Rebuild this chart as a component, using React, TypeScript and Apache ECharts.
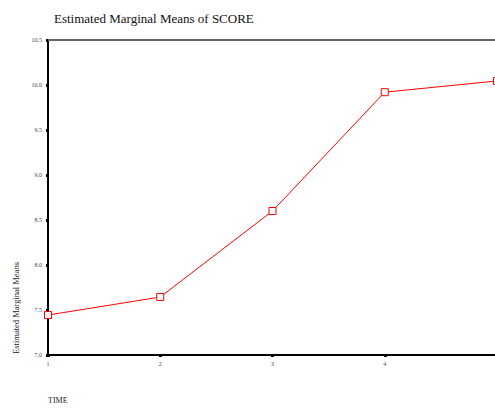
import React, { useEffect, useRef } from "react";
import * as echarts from "echarts";

// Estimated marginal means of SCORE for each TIME level
const timeLevels = ["1", "2", "3", "4", "5"];
const meanScores = [7.444, 7.644, 8.6, 9.92, 10.045];
const yTicks = [7.0, 7.5, 8.0, 8.5, 9.0, 9.5, 10.0, 10.5];

const SERIF = "Liberation Serif, DejaVu Serif, serif";

export default function App() {
  const ref = useRef<HTMLDivElement>(null);

  useEffect(() => {
    document.body.style.margin = "0";
    if (!ref.current) return;
    const chart = echarts.init(ref.current, null, { renderer: "svg" });
    chart.setOption({
      animation: false,
      backgroundColor: "#ffffff",
      title: {
        text: "Estimated Marginal Means of SCORE",
        left: 49,
        top: 7,
        textStyle: {
          fontFamily: SERIF,
          fontSize: 13,
          fontWeight: "normal",
          color: "#111",
        },
      },
      grid: {
        left: 48,
        top: 40,
        width: 449,
        height: 315,
        containLabel: false,
        outerBoundsMode: "none",
      },
      xAxis: [
        {
          type: "category",
          data: timeLevels,
          boundaryGap: false,
          position: "bottom",
          axisLine: { onZero: false, lineStyle: { color: "#000", width: 2 } },
          axisTick: { length: 2, alignWithLabel: true, lineStyle: { color: "#000", width: 3 } },
          axisLabel: {
            fontFamily: SERIF,
            fontSize: 6,
            color: "#444",
            margin: 6,
            showMaxLabel: false,
          },
          splitLine: { show: false },
        },
        {
          type: "category",
          data: timeLevels,
          boundaryGap: false,
          position: "top",
          axisLine: { lineStyle: { color: "#666", width: 2 } },
          axisTick: { show: false },
          axisLabel: { show: false },
        },
      ],
      yAxis: {
        type: "value",
        min: 7.0,
        max: 10.5,
        interval: 0.5,
        axisLine: { show: true, onZero: false, lineStyle: { color: "#000", width: 2 } },
        axisTick: { show: true, length: 2, lineStyle: { color: "#000", width: 3 } },
        axisLabel: {
          fontFamily: SERIF,
          fontSize: 6,
          color: "#444",
          margin: 6,
          formatter: (v: number) =>
            yTicks.some((t) => Math.abs(t - v) < 1e-9) ? v.toFixed(1) : "",
        },
        splitLine: { show: false },
      },
      graphic: [
        {
          type: "text",
          x: 16,
          y: 308,
          rotation: Math.PI / 2,
          style: {
            text: "Estimated Marginal Means",
            fontFamily: SERIF,
            fontSize: 8.5,
            fill: "#222",
            align: "center",
            verticalAlign: "middle",
          },
        },
        {
          type: "text",
          x: 48,
          y: 400,
          style: {
            text: "TIME",
            fontFamily: SERIF,
            fontSize: 8,
            fill: "#222",
            align: "left",
            verticalAlign: "middle",
          },
        },
      ],
      series: [
        {
          type: "line",
          data: meanScores,
          xAxisIndex: 0,
          symbol: "rect",
          symbolSize: 7,
          showAllSymbol: true,
          lineStyle: { color: "#ff0000", width: 1 },
          itemStyle: { color: "#ffffff", borderColor: "#ff0000", borderWidth: 1 },
          z: 5,
        },
      ],
    });
    return () => chart.dispose();
  }, []);

  return <div ref={ref} style={{ width: 495, height: 410 }} />;
}
